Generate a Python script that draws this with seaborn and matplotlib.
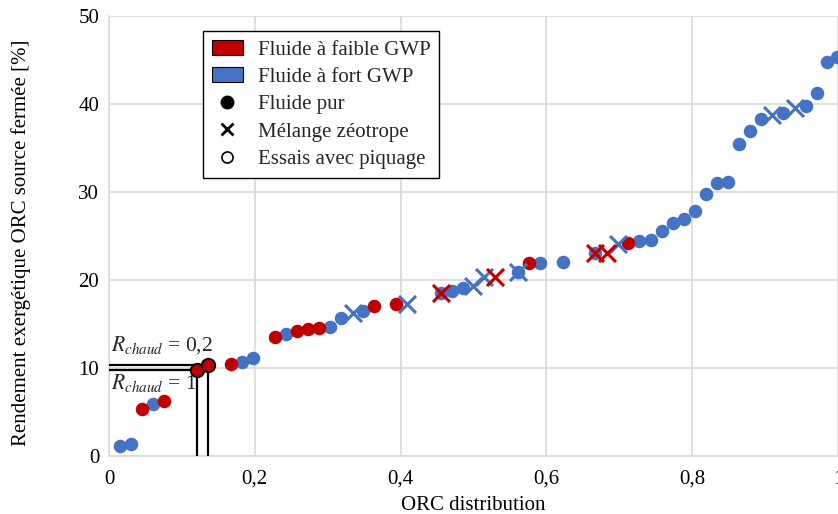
import matplotlib
matplotlib.use("Agg")
import matplotlib.pyplot as plt
import seaborn as sns
import pandas as pd
from matplotlib.patches import Patch
from matplotlib.lines import Line2D
from matplotlib.ticker import FuncFormatter

# ---- data ----
red_dot_x = [0.045, 0.075, 0.167, 0.228, 0.258, 0.273, 0.288, 0.364, 0.394, 0.576, 0.712]
red_dot_y = [5.3, 6.25, 10.5, 13.5, 14.2, 14.4, 14.5, 17.0, 17.3, 21.9, 24.2]

red_piq_x = [0.121, 0.136]
red_piq_y = [9.8, 10.3]

red_x_x = [0.455, 0.530, 0.667, 0.683]
red_x_y = [18.5, 20.3, 23.1, 23.1]

blue_dot_x = [0.015, 0.030, 0.060, 0.182, 0.198, 0.243, 0.303, 0.318, 0.348, 0.455,
              0.470, 0.486, 0.561, 0.591, 0.623, 0.667, 0.727, 0.743, 0.759, 0.774,
              0.789, 0.804, 0.819, 0.834, 0.849, 0.864, 0.879, 0.894, 0.925, 0.956,
              0.971, 0.985, 0.999]
blue_dot_y = [1.1, 1.4, 5.9, 10.7, 11.1, 13.9, 14.7, 15.7, 16.5, 18.5,
              18.75, 19.1, 20.9, 21.9, 22.0, 23.1, 24.4, 24.5, 25.6, 26.5,
              26.9, 27.8, 29.8, 31.0, 31.1, 35.5, 36.9, 38.3, 39.0, 39.8,
              41.25, 44.8, 45.3]

blue_x_x = [0.335, 0.409, 0.499, 0.514, 0.561, 0.698, 0.909, 0.941]
blue_x_y = [16.25, 17.3, 19.3, 20.3, 20.9, 24.1, 38.75, 39.5]

x_ticks = [0, 0.2, 0.4, 0.6, 0.8, 1.0]
y_ticks = [0, 10, 20, 30, 40, 50]

legend_labels = ["Fluide à faible GWP", "Fluide à fort GWP", "Fluide pur",
                 "Mélange zéotrope", "Essais avec piquage"]
annot_labels = [r"$R_{chaud}$ = 0,2", r"$R_{chaud}$ = 1"]

RED = "#C00000"
BLUE = "#4472C4"

sns.set_theme(style="white")
plt.rcParams["font.family"] = ["Liberation Serif", "DejaVu Serif"]
plt.rcParams["mathtext.fontset"] = "stix"

FS = 15

fig = plt.figure(figsize=(8.38, 5.14), dpi=100)
ax = fig.add_axes([109 / 838, 58 / 514, 729 / 838, 440 / 514])

DOT_S = 95

# reference lines for piquage tests
for px, py in zip(red_piq_x, red_piq_y):
    ax.plot([0, px], [py, py], color="black", lw=1.6, zorder=3, solid_capstyle="butt")
    ax.plot([px, px], [0, py], color="black", lw=1.6, zorder=3, solid_capstyle="butt")

df_bd = pd.DataFrame({"x": blue_dot_x, "y": blue_dot_y})
df_rd = pd.DataFrame({"x": red_dot_x, "y": red_dot_y})
df_bx = pd.DataFrame({"x": blue_x_x, "y": blue_x_y})
df_rx = pd.DataFrame({"x": red_x_x, "y": red_x_y})
df_rp = pd.DataFrame({"x": red_piq_x, "y": red_piq_y})

sns.scatterplot(data=df_bd, x="x", y="y", ax=ax, color=BLUE, s=DOT_S,
                linewidth=0, marker="o", zorder=4, legend=False)
sns.scatterplot(data=df_rd, x="x", y="y", ax=ax, color=RED, s=DOT_S,
                linewidth=0, marker="o", zorder=5, legend=False)
sns.scatterplot(data=df_bx, x="x", y="y", ax=ax, color=BLUE, s=150,
                linewidth=2.2, marker="x", zorder=6, legend=False)
sns.scatterplot(data=df_rx, x="x", y="y", ax=ax, color=RED, s=150,
                linewidth=2.2, marker="x", zorder=7, legend=False)
sns.scatterplot(data=df_rp, x="x", y="y", ax=ax, color=RED, s=DOT_S,
                edgecolor="black", linewidth=1.3, marker="o", zorder=8, legend=False)

ax.set_xlim(0, 1)
ax.set_ylim(0, 50)
ax.set_xticks(x_ticks)
ax.set_yticks(y_ticks)
fmt = FuncFormatter(lambda v, p: ("%g" % v).replace(".", ","))
ax.xaxis.set_major_formatter(fmt)
ax.yaxis.set_major_formatter(fmt)
ax.tick_params(axis="both", length=0, labelsize=FS, colors="black")
ax.tick_params(axis="x", pad=10)
ax.tick_params(axis="y", pad=7)
ax.grid(True, color="#D9D9D9", lw=1.2)
ax.set_axisbelow(True)
for s in ["top", "right"]:
    ax.spines[s].set_visible(False)
for s in ["left", "bottom"]:
    ax.spines[s].set_color("#D9D9D9")
    ax.spines[s].set_linewidth(1.2)

ax.set_xlabel("ORC distribution", fontsize=FS, color="black", labelpad=5)
ax.set_ylabel("Rendement exergétique ORC source fermée [%]", fontsize=FS,
              color="black")
ax.yaxis.set_label_coords(-0.107, 0.484)

ax.text(0.003, 12.6, annot_labels[0], fontsize=15.5, va="center", ha="left", zorder=9)
ax.text(0.003, 8.3, annot_labels[1], fontsize=15.5, va="center", ha="left", zorder=9)

handles = [
    Patch(facecolor=RED, edgecolor="black", linewidth=0.8),
    Patch(facecolor=BLUE, edgecolor="black", linewidth=0.8),
    Line2D([], [], ls="none", marker="o", color="black", markersize=9),
    Line2D([], [], ls="none", marker="x", color="black", markersize=9, markeredgewidth=2),
    Line2D([], [], ls="none", marker="o", markerfacecolor="white",
           markeredgecolor="black", markersize=8, markeredgewidth=1.2),
]
leg = ax.legend(handles, legend_labels, loc="upper left",
                bbox_to_anchor=((203 - 109) / 729, (456 - 31) / 440),
                borderaxespad=0,
                fontsize=FS, frameon=True, fancybox=False, framealpha=1,
                edgecolor="black", handlelength=1.5, handleheight=0.75,
                labelspacing=0.36, borderpad=0.42, handletextpad=0.7)
leg.get_frame().set_linewidth(1.0)

fig.savefig("out.png", dpi=100)
